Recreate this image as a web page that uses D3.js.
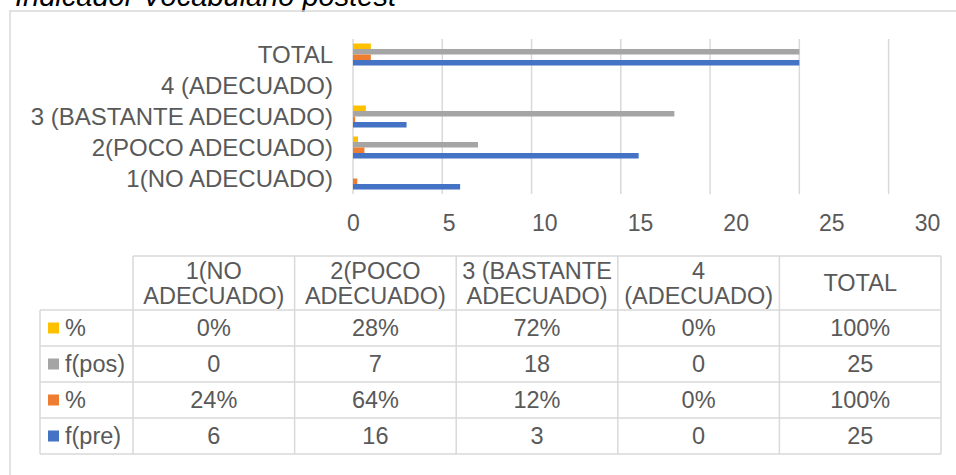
<!DOCTYPE html>
<html>
<head>
<meta charset="utf-8">
<script src="https://cdn.jsdelivr.net/npm/d3@7"></script>
<style>
  body { margin: 0; background: #fff; }
  svg { font-family: "Liberation Sans", Arial, sans-serif; }
  .grid line { stroke: #d9d9d9; stroke-width: 1.5; }
  .cat-label, .tick-label text, .cell-text { fill: #595959; }
  .tbl line { stroke: #d9d9d9; stroke-width: 1.5; }
</style>
</head>
<body>
<div class="chart"></div>
<script>
// categories bottom -> top as in the bar chart
let categories = ["1(NO ADECUADO)", "2(POCO ADECUADO)", "3 (BASTANTE ADECUADO)", "4 (ADECUADO)", "TOTAL"];
let headerLines = [["1(NO", "ADECUADO)"], ["2(POCO", "ADECUADO)"], ["3 (BASTANTE", "ADECUADO)"], ["4", "(ADECUADO)"], ["TOTAL"]];

// series (top -> bottom inside each group, same order as the table rows)
let seriesNames = ["%", "f(pos)", "%", "f(pre)"];
let seriesColors = ["#FFC000", "#A5A5A5", "#ED7D31", "#4472C4"];
let pctPos = [0, 0.28, 0.72, 0, 1];
let fPos = [0, 7, 18, 0, 25];
let pctPre = [0.24, 0.64, 0.12, 0, 1];
let fPre = [6, 16, 3, 0, 25];
let seriesIsPct = [true, false, true, false];
let xTicks = [0, 5, 10, 15, 20, 25, 30];

let seriesValues = [pctPos, fPos, pctPre, fPre];

let width = 956, height = 475;

let svg = d3.select(".chart")
  .append("svg")
  .attr("width", width)
  .attr("height", height);

// title (cut off at the top in the original)
svg.append("text")
  .attr("x", 15)
  .attr("y", 6)
  .attr("font-size", 29)
  .attr("font-style", "italic")
  .attr("fill", "#000")
  .text("Indicador Vocabulario postest");

// outer chart border
svg.append("rect")
  .attr("x", 10)
  .attr("y", 11)
  .attr("width", 960)
  .attr("height", 480)
  .attr("fill", "none")
  .attr("stroke", "#d9d9d9")
  .attr("stroke-width", 1.5);

// ---- bar chart ----
let plot = {left: 353, right: 888.6, top: 39, bottom: 194};

let x = d3.scaleLinear().domain([0, 30]).range([plot.left, plot.right]);
// tick labels in the picture are spread a bit wider than the gridlines
let xLabel = d3.scaleLinear().domain([0, 30]).range([353, 927]);

let y0 = d3.scaleBand()
  .domain(categories.slice().reverse())
  .range([plot.top, plot.bottom])
  .paddingInner(0.29)
  .paddingOuter(0.145);

let y1 = d3.scaleBand()
  .domain(d3.range(seriesNames.length))
  .range([0, y0.bandwidth()]);

// gridlines
svg.append("g")
  .attr("class", "grid")
  .selectAll("line")
  .data(xTicks)
  .enter().append("line")
  .attr("x1", d => x(d))
  .attr("x2", d => x(d))
  .attr("y1", plot.top)
  .attr("y2", plot.bottom);

// bars
let groups = svg.selectAll(".cat")
  .data(categories)
  .enter().append("g")
  .attr("class", "cat")
  .attr("transform", d => `translate(0,${y0(d)})`);

groups.selectAll("rect")
  .data((d, i) => seriesValues.map((s, j) => ({j: j, v: s[i]})))
  .enter().append("rect")
  .attr("x", x(0))
  .attr("y", d => y1(d.j))
  .attr("width", d => x(d.v) - x(0))
  .attr("height", y1.bandwidth())
  .attr("fill", d => seriesColors[d.j]);

// category labels
svg.selectAll(".cat-label")
  .data(categories)
  .enter().append("text")
  .attr("class", "cat-label")
  .attr("x", 333)
  .attr("y", d => y0(d) + y0.bandwidth() / 2)
  .attr("dy", "0.35em")
  .attr("text-anchor", "end")
  .attr("font-size", 24)
  .text(d => d);

// x axis labels
let xAxis = d3.axisBottom(xLabel).tickValues(xTicks).tickSize(0).tickPadding(21);
svg.append("g")
  .attr("class", "tick-label")
  .attr("transform", `translate(0,${plot.bottom})`)
  .call(xAxis)
  .call(g => g.select(".domain").remove())
  .selectAll("text")
  .attr("font-size", 23)
  .attr("font-family", "Liberation Sans, Arial, sans-serif");

// ---- data table ----
let tbl = svg.append("g").attr("class", "tbl");
let legendLeft = 40;
let colX = d3.scaleBand().domain(categories).range([133, 941]);
let headTop = 256;
let rowY = d3.scaleBand().domain(d3.range(seriesNames.length)).range([310, 454]);

// horizontal lines
tbl.append("line")
  .attr("x1", colX.range()[0]).attr("x2", colX.range()[1])
  .attr("y1", headTop).attr("y2", headTop);
tbl.selectAll(".hline")
  .data(d3.range(seriesNames.length + 1))
  .enter().append("line")
  .attr("x1", legendLeft).attr("x2", colX.range()[1])
  .attr("y1", d => rowY.range()[0] + d * rowY.step())
  .attr("y2", d => rowY.range()[0] + d * rowY.step());

// vertical lines
tbl.append("line")
  .attr("x1", legendLeft).attr("x2", legendLeft)
  .attr("y1", rowY.range()[0]).attr("y2", rowY.range()[1]);
tbl.selectAll(".vline")
  .data(d3.range(categories.length + 1))
  .enter().append("line")
  .attr("x1", d => colX.range()[0] + d * colX.step())
  .attr("x2", d => colX.range()[0] + d * colX.step())
  .attr("y1", headTop).attr("y2", rowY.range()[1]);

// header text
let headCenter = (headTop + rowY.range()[0]) / 2;
categories.forEach((c, i) => {
  let lines = headerLines[i];
  let t = tbl.append("text")
    .attr("class", "cell-text")
    .attr("text-anchor", "middle")
    .attr("font-size", 23.5)
    .attr("x", colX(c) + colX.bandwidth() / 2)
    .attr("y", headCenter - (lines.length - 1) * 12.5)
    .attr("dy", "0.35em");
  lines.forEach((l, k) => {
    t.append("tspan")
      .attr("x", colX(c) + colX.bandwidth() / 2)
      .attr("dy", k == 0 ? "0.35em" : 25)
      .text(l);
  });
});

// legend cells
seriesNames.forEach((name, j) => {
  let cy = rowY(j) + rowY.bandwidth() / 2;
  tbl.append("rect")
    .attr("x", legendLeft + 8)
    .attr("y", cy - 5.5)
    .attr("width", 11)
    .attr("height", 11)
    .attr("fill", seriesColors[j]);
  tbl.append("text")
    .attr("class", "cell-text")
    .attr("x", legendLeft + 25)
    .attr("y", cy)
    .attr("dy", "0.35em")
    .attr("font-size", 23.5)
    .text(name);

  // values
  tbl.selectAll(".val" + j)
    .data(seriesValues[j])
    .enter().append("text")
    .attr("class", "cell-text")
    .attr("text-anchor", "middle")
    .attr("x", (d, i) => colX(categories[i]) + colX.bandwidth() / 2)
    .attr("y", cy)
    .attr("dy", "0.35em")
    .attr("font-size", 23.5)
    .text(d => seriesIsPct[j] ? d3.format(".0%")(d) : d);
});
</script>
</body>
</html>
